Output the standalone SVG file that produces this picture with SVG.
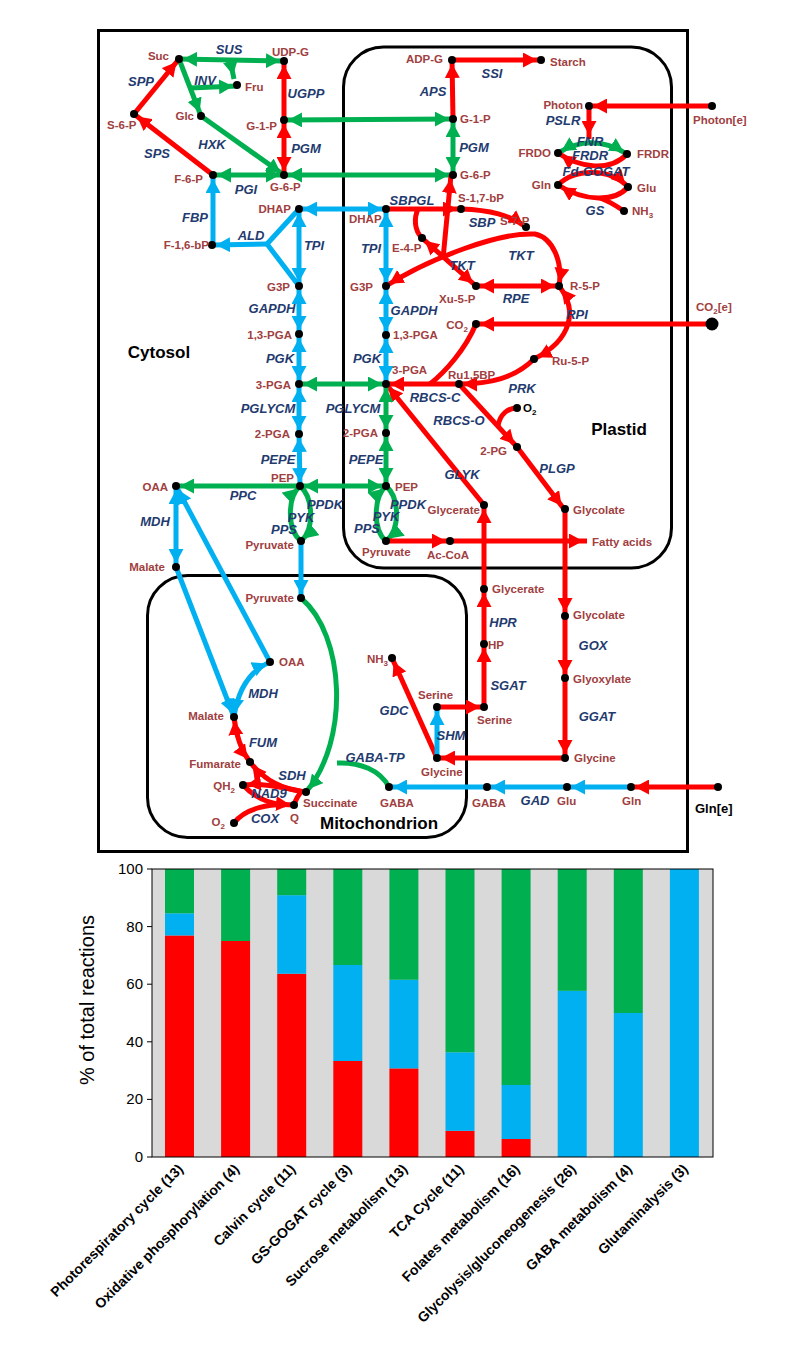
<svg xmlns="http://www.w3.org/2000/svg" width="800" height="1350" viewBox="0 0 800 1350">
<style>
.bg{fill:#ffffff}
.box{fill:none;stroke:#000;stroke-width:3}
.c{fill:none;stroke-width:5;stroke-linejoin:round}
.r{stroke:#ff0000}
.g{stroke:#00b050}
.b{stroke:#00b0f0}
.er{marker-end:url(#mr)}
.eg{marker-end:url(#mg)}
.eb{marker-end:url(#mb)}
.br{marker-start:url(#mr);marker-end:url(#mr)}
.bgn{marker-start:url(#mg);marker-end:url(#mg)}
.bb{marker-start:url(#mb);marker-end:url(#mb)}
.n{fill:#000}
.m{font-family:"Liberation Sans",Arial,sans-serif;font-size:11.5px;font-weight:bold;fill:#a0403f}
.k{font-family:"Liberation Sans",Arial,sans-serif;font-size:11.5px;font-weight:bold;fill:#000}
.e{font-family:"Liberation Sans",Arial,sans-serif;font-size:13px;font-weight:bold;font-style:italic;fill:#1f3b6f;text-anchor:middle}
.cl{font-family:"Liberation Sans",Arial,sans-serif;font-size:17px;font-weight:bold;fill:#000;text-anchor:middle}
.end{text-anchor:end}
.ax{font-family:"Liberation Sans",Arial,sans-serif;font-size:15px;fill:#000}
.xl{font-family:"Liberation Sans",Arial,sans-serif;font-size:14px;font-weight:bold;fill:#000;text-anchor:end}
</style>
<defs>
<marker id="mr" viewBox="0 0 14 15" refX="18" refY="7.5" markerWidth="14" markerHeight="15" markerUnits="userSpaceOnUse" orient="auto-start-reverse"><path d="M0,0 L14,7.5 L0,15 z" fill="#ff0000"/></marker>
<marker id="mg" viewBox="0 0 14 15" refX="18" refY="7.5" markerWidth="14" markerHeight="15" markerUnits="userSpaceOnUse" orient="auto-start-reverse"><path d="M0,0 L14,7.5 L0,15 z" fill="#00b050"/></marker>
<marker id="mb" viewBox="0 0 14 15" refX="18" refY="7.5" markerWidth="14" markerHeight="15" markerUnits="userSpaceOnUse" orient="auto-start-reverse"><path d="M0,0 L14,7.5 L0,15 z" fill="#00b0f0"/></marker>
</defs>
<rect class="bg" x="0" y="0" width="800" height="1350"/>

<g id="compartments">
<rect class="box" x="98.5" y="30.5" width="589" height="821"/>
<rect class="box" x="343.5" y="47" width="328" height="521" rx="40"/>
<rect class="box" x="147.5" y="575.5" width="319" height="262" rx="40"/>
<text class="cl" x="159" y="358">Cytosol</text>
<text class="cl" x="619" y="435">Plastid</text>
<text class="cl" x="379" y="829">Mitochondrion</text>
</g>

<g id="connectors">
<path class="c g bgn" d="M179,59 L284,61"/>
<path class="c g eg" d="M230,60 L234,79"/>
<path class="c g eg" d="M179,59 L201,116"/>
<path class="c g eg" d="M190,88 L237,86"/>
<path class="c g eg" d="M201,116 L284,175"/>
<path class="c r er" d="M284,120 L284,61"/>
<path class="c r br" d="M284,120 L284,175"/>
<path class="c g bgn" d="M284,175 L213,175"/>
<path class="c r er" d="M213,175 L134,114"/>
<path class="c r er" d="M134,114 L179,59"/>
<path class="c b eb" d="M213,245 L213,175"/>
<path class="c g bgn" d="M284,120 L453,119"/>
<path class="c g bgn" d="M284,175 L453,175"/>
<path class="c b bb" d="M299,209 L386,209"/>
<path class="c b bb" d="M299,209 L299,286"/>
<path class="c b" d="M299,209 L267,244 L299,286"/>
<path class="c b eb" d="M267,244 L212,245"/>
<path class="c b bb" d="M299,286 L299,334"/>
<path class="c b bb" d="M299,334 L299,384"/>
<path class="c b bb" d="M299,384 L299,434"/>
<path class="c b bb" d="M299,434 L300,486"/>
<path class="c g bgn" d="M299,384 L386,384"/>
<path class="c g bgn" d="M300,486 L386,486"/>
<path class="c g eg" d="M300,486 L176,486"/>
<path class="c b bb" d="M176,486 L176,567"/>
<path class="c g eg" d="M301,541 C287,530 287,498 300,486"/>
<path class="c g eg" d="M300,486 C314,498 314,530 301,541"/>
<path class="c b eb" d="M301,541 L301,598"/>
<path class="c b eb" d="M176,567 L234,717"/>
<path class="c b eb" d="M270,662 L176,486"/>
<path class="c b bb" d="M234,717 Q240,675 270,662"/>
<path class="c r br" d="M234,717 Q237,745 250,762"/>
<path class="c r er" d="M306,792 C285,790 265,782 250,762"/>
<path class="c r er" d="M300,791 C280,787 262,783 243,785"/>
<path class="c r" d="M294,805 C296,799 298,795 302,791"/>
<path class="c r er" d="M234,823 C245,808 270,803 294,805"/>
<path class="c r" d="M243,785 C255,798 268,804 285,805"/>
<path class="c g eg" d="M301,598 C345,635 350,740 306,792"/>
<path class="c g" d="M389,787 C380,770 360,762 337,763"/>
<path class="c r er" d="M437,758 L392,658"/>
<path class="c b eb" d="M437,758 L437,707"/>
<path class="c r er" d="M437,707 L484,707"/>
<path class="c r er" d="M484,707 L484,644"/>
<path class="c r er" d="M484,644 L484,589"/>
<path class="c r er" d="M484,589 L484,505"/>
<path class="c r er" d="M484,505 L386,384"/>
<path class="c r er" d="M565,509 L565,616"/>
<path class="c r er" d="M565,616 L565,678"/>
<path class="c r er" d="M565,678 L565,758"/>
<path class="c r er" d="M565,758 L437,758"/>
<path class="c b eb" d="M567,787 L487,787"/>
<path class="c b eb" d="M487,787 L389,787"/>
<path class="c b eb" d="M631,787 L567,787"/>
<path class="c r er" d="M718,787 L631,787"/>
<path class="c r er" d="M452,60 L541,60"/>
<path class="c r er" d="M453,119 L452,60"/>
<path class="c g bgn" d="M453,119 L453,175"/>
<path class="c r er" d="M386,209 L461,209"/>
<path class="c r" d="M422,238 C414,230 414,218 418,209"/>
<path class="c r er" d="M443,259 L451,175"/>
<path class="c r er" d="M461,209 C490,210 510,215 526,227"/>
<path class="c r br" d="M386,286 C430,258 500,232 535,234 C553,238 563,262 559,286"/>
<path class="c r br" d="M422,238 L476,286"/>
<path class="c r br" d="M476,286 L559,286"/>
<path class="c r br" d="M559,286 C578,310 572,340 534,359"/>
<path class="c r er" d="M534,359 C515,378 490,384 459,384"/>
<path class="c r er" d="M459,384 L386,384"/>
<path class="c r" d="M476,324 C465,350 445,372 430,384"/>
<path class="c r er" d="M459,384 L517,447"/>
<path class="c r" d="M517,408 C508,408 500,414 498,426"/>
<path class="c r er" d="M517,447 L564,509"/>
<path class="c b bb" d="M386,209 L386,286"/>
<path class="c b bb" d="M386,286 L386,335"/>
<path class="c b bb" d="M386,335 L386,384"/>
<path class="c g bgn" d="M386,384 L386,433"/>
<path class="c g bgn" d="M386,433 L386,486"/>
<path class="c g eg" d="M386,541 C373,530 373,498 386,486"/>
<path class="c g eg" d="M386,486 C400,498 400,530 386,541"/>
<path class="c r er" d="M386,541 L450,541"/>
<path class="c r er" d="M450,541 L587,541"/>
<path class="c r er" d="M712,106 L589,106"/>
<path class="c r er" d="M589,106 L589,139"/>
<path class="c g bgn" d="M558,153 Q592,132 627,154"/>
<path class="c r er" d="M627,154 C610,172 580,168 558,153"/>
<path class="c r er" d="M558,185 C575,168 610,168 628,187"/>
<path class="c r er" d="M628,187 C615,202 585,202 558,185"/>
<path class="c r" d="M624,211 C615,205 606,200 600,198"/>
<path class="c r er" d="M712,324 L476,324"/>
</g>

<g id="nodes">
<circle class="n" cx="179" cy="59" r="4"/><circle class="n" cx="284" cy="61" r="4"/><circle class="n" cx="237" cy="85" r="4"/>
<circle class="n" cx="201" cy="116" r="4"/><circle class="n" cx="134" cy="114" r="4"/><circle class="n" cx="284" cy="120" r="4"/>
<circle class="n" cx="213" cy="175" r="4"/><circle class="n" cx="284" cy="175" r="4"/><circle class="n" cx="299" cy="209" r="4"/>
<circle class="n" cx="212" cy="245" r="4"/><circle class="n" cx="299" cy="286" r="4"/><circle class="n" cx="299" cy="334" r="4"/>
<circle class="n" cx="299" cy="384" r="4"/><circle class="n" cx="299" cy="434" r="4"/><circle class="n" cx="300" cy="486" r="4"/>
<circle class="n" cx="176" cy="486" r="4"/><circle class="n" cx="301" cy="541" r="4"/><circle class="n" cx="176" cy="567" r="4"/>
<circle class="n" cx="452" cy="60" r="4"/><circle class="n" cx="541" cy="60" r="4"/><circle class="n" cx="453" cy="119" r="4"/>
<circle class="n" cx="453" cy="175" r="4"/><circle class="n" cx="386" cy="209" r="4"/><circle class="n" cx="461" cy="209" r="4"/>
<circle class="n" cx="526" cy="227" r="4"/><circle class="n" cx="422" cy="238" r="4"/><circle class="n" cx="386" cy="286" r="4"/>
<circle class="n" cx="476" cy="286" r="4"/><circle class="n" cx="559" cy="286" r="4"/><circle class="n" cx="386" cy="335" r="4"/>
<circle class="n" cx="476" cy="324" r="4"/><circle class="n" cx="534" cy="359" r="4"/><circle class="n" cx="386" cy="384" r="4"/>
<circle class="n" cx="459" cy="384" r="4"/><circle class="n" cx="517" cy="408" r="4"/><circle class="n" cx="386" cy="433" r="4"/>
<circle class="n" cx="517" cy="447" r="4"/><circle class="n" cx="386" cy="486" r="4"/><circle class="n" cx="484" cy="505" r="4"/>
<circle class="n" cx="565" cy="509" r="4"/><circle class="n" cx="386" cy="541" r="4"/><circle class="n" cx="450" cy="541" r="4"/>
<circle class="n" cx="589" cy="106" r="4"/><circle class="n" cx="558" cy="153" r="4"/><circle class="n" cx="627" cy="154" r="4"/>
<circle class="n" cx="558" cy="185" r="4"/><circle class="n" cx="628" cy="187" r="4"/><circle class="n" cx="624" cy="211" r="4"/>
<circle class="n" cx="712" cy="106" r="4"/><circle class="n" cx="712" cy="324" r="6.5"/><circle class="n" cx="718" cy="787" r="4"/>
<circle class="n" cx="484" cy="589" r="4"/><circle class="n" cx="484" cy="644" r="4"/><circle class="n" cx="484" cy="707" r="4"/>
<circle class="n" cx="565" cy="616" r="4"/><circle class="n" cx="565" cy="678" r="4"/><circle class="n" cx="565" cy="758" r="4"/>
<circle class="n" cx="487" cy="787" r="4"/><circle class="n" cx="567" cy="787" r="4"/><circle class="n" cx="631" cy="787" r="4"/>
<circle class="n" cx="301" cy="598" r="4"/><circle class="n" cx="270" cy="662" r="4"/><circle class="n" cx="234" cy="717" r="4"/>
<circle class="n" cx="250" cy="762" r="4"/><circle class="n" cx="243" cy="785" r="4"/><circle class="n" cx="306" cy="792" r="4"/>
<circle class="n" cx="294" cy="805" r="4"/><circle class="n" cx="234" cy="823" r="4"/><circle class="n" cx="392" cy="658" r="4"/>
<circle class="n" cx="437" cy="707" r="4"/><circle class="n" cx="437" cy="758" r="4"/><circle class="n" cx="389" cy="787" r="4"/>
</g>

<g id="metabolite-labels">
<text class="m end" x="169" y="60">Suc</text>
<text class="m" x="272" y="56">UDP-G</text>
<text class="m" x="245" y="91">Fru</text>
<text class="m end" x="194" y="120">Glc</text>
<text class="m" x="107" y="129">S-6-P</text>
<text class="m end" x="277" y="130">G-1-P</text>
<text class="m end" x="203" y="183">F-6-P</text>
<text class="m" x="270" y="191">G-6-P</text>
<text class="m end" x="291" y="213">DHAP</text>
<text class="m end" x="209" y="249">F-1,6-bP</text>
<text class="m end" x="290" y="291">G3P</text>
<text class="m end" x="292" y="339">1,3-PGA</text>
<text class="m end" x="291" y="389">3-PGA</text>
<text class="m end" x="290" y="438">2-PGA</text>
<text class="m end" x="294" y="482">PEP</text>
<text class="m end" x="168" y="491">OAA</text>
<text class="m end" x="294" y="549">Pyruvate</text>
<text class="m end" x="165" y="571">Malate</text>
<text class="m end" x="294" y="602">Pyruvate</text>
<text class="m" x="279" y="666">OAA</text>
<text class="m end" x="224" y="720">Malate</text>
<text class="m end" x="241" y="768">Fumarate</text>
<text class="m end" x="235" y="790">QH<tspan font-size="8" dy="3">2</tspan></text>
<text class="m" x="303" y="807">Succinate</text>
<text class="m" x="290" y="822">Q</text>
<text class="m end" x="225" y="826">O<tspan font-size="8" dy="3">2</tspan></text>
<text class="m end" x="388" y="663">NH<tspan font-size="8" dy="3">3</tspan></text>
<text class="m" x="418" y="699">Serine</text>
<text class="m" x="477" y="724">Serine</text>
<text class="m" x="421" y="776">Glycine</text>
<text class="m" x="380" y="807">GABA</text>
<text class="m" x="472" y="807">GABA</text>
<text class="m" x="557" y="805">Glu</text>
<text class="m" x="622" y="805">Gln</text>
<text class="k" x="695" y="813" style="font-size:13px">Gln[e]</text>
<text class="m" x="574" y="762">Glycine</text>
<text class="m" x="573" y="683">Glyoxylate</text>
<text class="m" x="573" y="619">Glycolate</text>
<text class="m" x="488" y="649">HP</text>
<text class="m" x="492" y="593">Glycerate</text>
<text class="m end" x="480" y="514">Glycerate</text>
<text class="m" x="573" y="514">Glycolate</text>
<text class="m" x="592" y="546">Fatty acids</text>
<text class="m" x="427" y="559">Ac-CoA</text>
<text class="m" x="362" y="556">Pyruvate</text>
<text class="m" x="395" y="491">PEP</text>
<text class="m end" x="507" y="455">2-PG</text>
<text class="m end" x="378" y="437">2-PGA</text>
<text class="k" x="523" y="412">O<tspan font-size="8" dy="3">2</tspan></text>
<text class="m" x="448" y="379">Ru1,5BP</text>
<text class="m" x="392" y="374">3-PGA</text>
<text class="m" x="552" y="365">Ru-5-P</text>
<text class="m end" x="468" y="329">CO<tspan font-size="8" dy="3">2</tspan></text>
<text class="m" x="393" y="339">1,3-PGA</text>
<text class="m" x="696" y="311">CO<tspan font-size="8" dy="3">2</tspan><tspan dy="-3">[e]</tspan></text>
<text class="m" x="570" y="290">R-5-P</text>
<text class="m" x="439" y="303">Xu-5-P</text>
<text class="m end" x="373" y="291">G3P</text>
<text class="m" x="392" y="252">E-4-P</text>
<text class="m" x="500" y="225">S-7-P</text>
<text class="m" x="458" y="202">S-1,7-bP</text>
<text class="m" x="349" y="223">DHAP</text>
<text class="m" x="460" y="179">G-6-P</text>
<text class="m" x="460" y="123">G-1-P</text>
<text class="m end" x="443" y="63">ADP-G</text>
<text class="m" x="550" y="66">Starch</text>
<text class="m end" x="583" y="109">Photon</text>
<text class="m" x="693" y="124">Photon[e]</text>
<text class="m end" x="551" y="157">FRDO</text>
<text class="m" x="637" y="158">FRDR</text>
<text class="m end" x="551" y="189">Gln</text>
<text class="m" x="637" y="192">Glu</text>
<text class="m" x="632" y="215">NH<tspan font-size="8" dy="3">3</tspan></text>
</g>

<g id="enzyme-labels">
<text class="e" x="229" y="54">SUS</text>
<text class="e" x="205" y="85">INV</text>
<text class="e" x="306" y="98">UGPP</text>
<text class="e" x="141" y="86">SPP</text>
<text class="e" x="212" y="149">HXK</text>
<text class="e" x="306" y="153">PGM</text>
<text class="e" x="157" y="158">SPS</text>
<text class="e" x="246" y="194">PGI</text>
<text class="e" x="195" y="222">FBP</text>
<text class="e" x="251" y="240">ALD</text>
<text class="e" x="314" y="250">TPI</text>
<text class="e" x="272" y="313">GAPDH</text>
<text class="e" x="280" y="363">PGK</text>
<text class="e" x="268" y="413">PGLYCM</text>
<text class="e" x="278" y="464">PEPE</text>
<text class="e" x="243" y="500">PPC</text>
<text class="e" x="155" y="526">MDH</text>
<text class="e" x="325" y="509">PPDK</text>
<text class="e" x="301" y="522">PYK</text>
<text class="e" x="284" y="534">PPS</text>
<text class="e" x="492" y="78">SSI</text>
<text class="e" x="433" y="96">APS</text>
<text class="e" x="474" y="152">PGM</text>
<text class="e" x="412" y="205">SBPGL</text>
<text class="e" x="482" y="227">SBP</text>
<text class="e" x="563" y="125">PSLR</text>
<text class="e" x="590" y="146">FNR</text>
<text class="e" x="590" y="160">FRDR</text>
<text class="e" x="596" y="176">Fd-GOGAT</text>
<text class="e" x="595" y="215">GS</text>
<text class="e" x="371" y="253">TPI</text>
<text class="e" x="462" y="270">TKT</text>
<text class="e" x="521" y="260">TKT</text>
<text class="e" x="516" y="303">RPE</text>
<text class="e" x="414" y="315">GAPDH</text>
<text class="e" x="577" y="319">RPI</text>
<text class="e" x="367" y="363">PGK</text>
<text class="e" x="522" y="393">PRK</text>
<text class="e" x="435" y="402">RBCS-C</text>
<text class="e" x="459" y="425">RBCS-O</text>
<text class="e" x="353" y="413">PGLYCM</text>
<text class="e" x="366" y="464">PEPE</text>
<text class="e" x="462" y="479">GLYK</text>
<text class="e" x="557" y="473">PLGP</text>
<text class="e" x="408" y="509">PPDK</text>
<text class="e" x="386" y="521">PYK</text>
<text class="e" x="367" y="533">PPS</text>
<text class="e" x="503" y="627">HPR</text>
<text class="e" x="263" y="698">MDH</text>
<text class="e" x="263" y="747">FUM</text>
<text class="e" x="292" y="780">SDH</text>
<text class="e" x="269" y="798">NAD9</text>
<text class="e" x="265" y="823">COX</text>
<text class="e" x="394" y="715">GDC</text>
<text class="e" x="451" y="740">SHM</text>
<text class="e" x="375" y="762">GABA-TP</text>
<text class="e" x="508" y="690">SGAT</text>
<text class="e" x="593" y="650">GOX</text>
<text class="e" x="597" y="721">GGAT</text>
<text class="e" x="535" y="805">GAD</text>
</g>

<g id="chart">
<rect x="152" y="869" width="561" height="288" fill="#d9d9d9"/>
<g id="bar1"><rect x="165" y="935.46" width="29" height="221.54" fill="#ff0000"/><rect x="165" y="913.31" width="29" height="22.15" fill="#00b0f0"/><rect x="165" y="869" width="29" height="44.31" fill="#00b050"/></g>
<g id="bar2"><rect x="221.1" y="941" width="29" height="216" fill="#ff0000"/><rect x="221.1" y="869" width="29" height="72" fill="#00b050"/></g>
<g id="bar3"><rect x="277.2" y="973.73" width="29" height="183.27" fill="#ff0000"/><rect x="277.2" y="895.18" width="29" height="78.55" fill="#00b0f0"/><rect x="277.2" y="869" width="29" height="26.18" fill="#00b050"/></g>
<g id="bar4"><rect x="333.3" y="1061" width="29" height="96" fill="#ff0000"/><rect x="333.3" y="965" width="29" height="96" fill="#00b0f0"/><rect x="333.3" y="869" width="29" height="96" fill="#00b050"/></g>
<g id="bar5"><rect x="389.4" y="1068.38" width="29" height="88.62" fill="#ff0000"/><rect x="389.4" y="979.76" width="29" height="88.62" fill="#00b0f0"/><rect x="389.4" y="869" width="29" height="110.76" fill="#00b050"/></g>
<g id="bar6"><rect x="445.5" y="1130.82" width="29" height="26.18" fill="#ff0000"/><rect x="445.5" y="1052.27" width="29" height="78.55" fill="#00b0f0"/><rect x="445.5" y="869" width="29" height="183.27" fill="#00b050"/></g>
<g id="bar7"><rect x="501.6" y="1139" width="29" height="18" fill="#ff0000"/><rect x="501.6" y="1085" width="29" height="54" fill="#00b0f0"/><rect x="501.6" y="869" width="29" height="216" fill="#00b050"/></g>
<g id="bar8"><rect x="557.7" y="990.85" width="29" height="166.15" fill="#00b0f0"/><rect x="557.7" y="869" width="29" height="121.85" fill="#00b050"/></g>
<g id="bar9"><rect x="613.8" y="1013" width="29" height="144" fill="#00b0f0"/><rect x="613.8" y="869" width="29" height="144" fill="#00b050"/></g>
<g id="bar10"><rect x="669.9" y="869" width="29" height="288" fill="#00b0f0"/></g>
<rect x="152" y="869" width="561" height="288" fill="none" stroke="#000" stroke-width="1"/>
<g stroke="#000" stroke-width="1">
<line x1="147" y1="869" x2="152" y2="869"/><line x1="147" y1="926.6" x2="152" y2="926.6"/><line x1="147" y1="984.2" x2="152" y2="984.2"/>
<line x1="147" y1="1041.8" x2="152" y2="1041.8"/><line x1="147" y1="1099.4" x2="152" y2="1099.4"/><line x1="147" y1="1157" x2="152" y2="1157"/>
</g>
<g class="ax" text-anchor="end">
<text x="143" y="874">100</text><text x="143" y="932">80</text><text x="143" y="989">60</text>
<text x="143" y="1047">40</text><text x="143" y="1104">20</text><text x="143" y="1162">0</text>
</g>
<text class="ax" style="font-size:20px" text-anchor="middle" transform="translate(94,1000) rotate(-90)">% of total reactions</text>
<text class="xl" transform="translate(184,1170) rotate(-45)">Photorespiratory cycle (13)</text>
<text class="xl" transform="translate(240.1,1170) rotate(-45)">Oxidative phosphorylation (4)</text>
<text class="xl" transform="translate(296.2,1170) rotate(-45)">Calvin cycle (11)</text>
<text class="xl" transform="translate(352.3,1170) rotate(-45)">GS-GOGAT cycle (3)</text>
<text class="xl" transform="translate(408.4,1170) rotate(-45)">Sucrose metabolism (13)</text>
<text class="xl" transform="translate(464.5,1170) rotate(-45)">TCA Cycle (11)</text>
<text class="xl" transform="translate(520.6,1170) rotate(-45)">Folates metabolism (16)</text>
<text class="xl" transform="translate(576.7,1170) rotate(-45)">Glycolysis/gluconeogenesis (26)</text>
<text class="xl" transform="translate(632.8,1170) rotate(-45)">GABA metabolism (4)</text>
<text class="xl" transform="translate(688.9,1170) rotate(-45)">Glutaminalysis (3)</text>
</g>
</svg>
